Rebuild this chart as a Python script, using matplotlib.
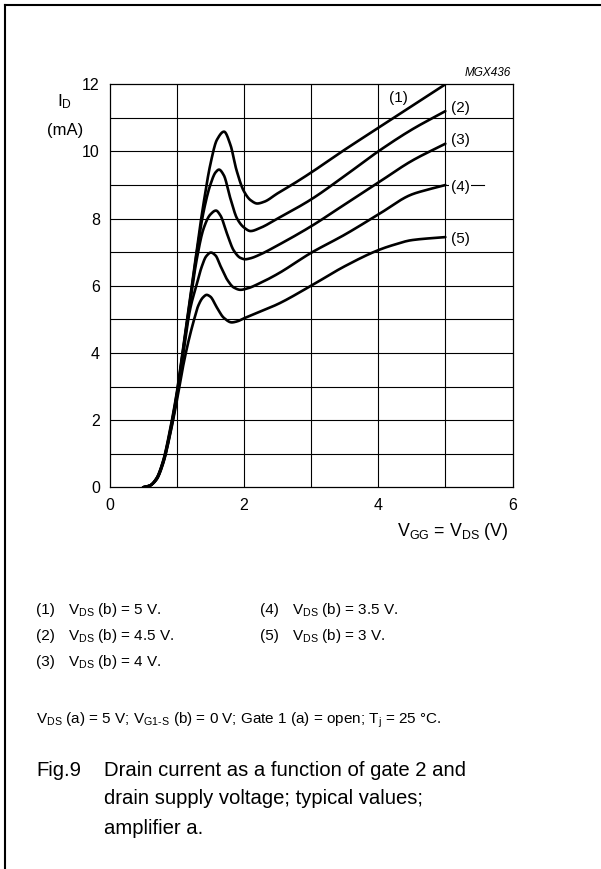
import numpy as np
import matplotlib
matplotlib.use("Agg")
import matplotlib.pyplot as plt
from matplotlib.lines import Line2D

plt.rcParams["font.family"] = ["Liberation Sans", "DejaVu Sans"]
plt.rcParams["mathtext.fontset"] = "custom"
plt.rcParams["mathtext.rm"] = "Liberation Sans"
plt.rcParams["mathtext.it"] = "Liberation Sans:italic"

# Drain current I_D (mA) versus V_GG = V_DS (V), one curve per V_DS (b)
curve_labels = ["(1)", "(2)", "(3)", "(4)", "(5)"]
vds_b = ["5", "4.5", "4", "3.5", "3"]

x1 = [0.50, 0.60, 0.70, 0.80, 0.90, 1.00, 1.10, 1.20, 1.30, 1.40, 1.50, 1.60,
      1.705, 1.80, 1.89, 2.00, 2.10, 2.20, 2.30, 2.50, 2.75, 3.00, 3.50, 4.00,
      4.50, 5.00]
y1 = [0.00, 0.05, 0.27, 0.80, 1.70, 2.80, 4.20, 5.65, 7.10, 8.45, 9.60, 10.35,
      10.59, 10.20, 9.45, 8.82, 8.55, 8.45, 8.50, 8.75, 9.05, 9.37, 10.05, 10.70,
      11.35, 12.00]

x2 = [0.50, 0.60, 0.70, 0.80, 0.90, 1.00, 1.10, 1.20, 1.30, 1.40, 1.50, 1.58,
      1.63, 1.70, 1.80, 1.90, 2.00, 2.10, 2.24, 2.50, 3.00, 3.50, 4.00, 4.50, 5.00]
y2 = [0.00, 0.05, 0.26, 0.78, 1.65, 2.75, 4.15, 5.60, 7.00, 8.20, 9.00, 9.38,
      9.46, 9.30, 8.60, 8.00, 7.74, 7.63, 7.72, 8.00, 8.57, 9.27, 10.00, 10.65, 11.20]

x3 = [0.50, 0.60, 0.70, 0.80, 0.90, 1.00, 1.10, 1.20, 1.30, 1.40, 1.50, 1.585,
      1.65, 1.75, 1.85, 1.95, 2.02, 2.10, 2.24, 2.50, 3.00, 3.50, 4.00, 4.50, 5.00]
y3 = [0.00, 0.05, 0.25, 0.76, 1.62, 2.70, 4.10, 5.50, 6.80, 7.70, 8.12, 8.24,
      8.10, 7.55, 7.05, 6.83, 6.79, 6.82, 6.93, 7.20, 7.77, 8.42, 9.07, 9.72, 10.23]

x4 = [0.50, 0.60, 0.70, 0.80, 0.90, 1.00, 1.10, 1.20, 1.30, 1.37, 1.44, 1.51,
      1.58, 1.65, 1.75, 1.85, 1.95, 2.05, 2.24, 2.50, 3.00, 3.50, 4.00, 4.50,
      4.75, 5.00]
y4 = [0.00, 0.05, 0.24, 0.74, 1.58, 2.65, 4.00, 5.30, 6.05, 6.55, 6.88, 6.99,
      6.90, 6.60, 6.19, 5.95, 5.88, 5.92, 6.08, 6.35, 6.98, 7.52, 8.12, 8.72,
      8.87, 9.00]

x5 = [0.50, 0.60, 0.70, 0.80, 0.90, 1.00, 1.10, 1.17, 1.26, 1.32, 1.39, 1.447,
      1.50, 1.60, 1.70, 1.82, 1.90, 2.00, 2.24, 2.50, 3.00, 3.50, 4.00, 4.20,
      4.50, 5.00]
y5 = [0.00, 0.05, 0.23, 0.72, 1.55, 2.55, 3.65, 4.30, 5.00, 5.40, 5.65, 5.73,
      5.68, 5.35, 5.05, 4.91, 4.94, 5.03, 5.23, 5.45, 6.00, 6.58, 7.06, 7.20,
      7.36, 7.45]

curves_x = [x1, x2, x3, x4, x5]
curves_y = [y1, y2, y3, y4, y5]

# label anchor for each curve (data coords)
label_x = [4.30, 5.08, 5.08, 5.08, 5.08]
label_y = [11.58, 11.29, 10.34, 8.95, 7.39]
label_ha = ["center", "left", "left", "left", "left"]

x_ticks = [0, 2, 4, 6]
y_ticks = [0, 2, 4, 6, 8, 10, 12]


def pchip(x, y, n=40):
    """Monotone cubic Hermite curve through the given points."""
    x = np.asarray(x, float)
    y = np.asarray(y, float)
    h = np.diff(x)
    delta = np.diff(y) / h
    d = np.zeros_like(y)
    for k in range(1, len(x) - 1):
        if delta[k - 1] * delta[k] > 0:
            w1 = 2 * h[k] + h[k - 1]
            w2 = h[k] + 2 * h[k - 1]
            d[k] = (w1 + w2) / (w1 / delta[k - 1] + w2 / delta[k])
    d[0] = delta[0]
    d[-1] = delta[-1]
    xs, ys = [], []
    for k in range(len(x) - 1):
        t = np.linspace(0, 1, n, endpoint=False)
        h00 = 2 * t**3 - 3 * t**2 + 1
        h10 = t**3 - 2 * t**2 + t
        h01 = -2 * t**3 + 3 * t**2
        h11 = t**3 - t**2
        xs.append(x[k] + t * h[k])
        ys.append(h00 * y[k] + h10 * h[k] * d[k] + h01 * y[k + 1] + h11 * h[k] * d[k + 1])
    xs.append([x[-1]])
    ys.append([y[-1]])
    return np.concatenate(xs), np.concatenate(ys)


W, H = 601, 869
fig = plt.figure(figsize=(W / 100, H / 100), dpi=100)
fig.patch.set_facecolor("white")


def fx(px):
    return px / W


def fy(py):
    return 1 - py / H


# page frame (top and left rules)
fig.add_artist(Line2D([fx(5), 1], [fy(5), fy(5)], color="black", lw=1.5))
fig.add_artist(Line2D([fx(5), fx(5)], [fy(5), 0], color="black", lw=1.5))

ax = fig.add_axes([fx(109.5), fy(487.3), fx(512.5) - fx(109.5), fy(84.3) - fy(487.3)])
ax.set_xlim(0, 6)
ax.set_ylim(0, 12)

# grid
for gx in range(1, 6):
    ax.axvline(gx, color="black", lw=0.8, zorder=1)
for gy in range(1, 12):
    xmax = 5.58 / 6 if gy == 9 else 1
    ax.axhline(gy, xmin=0, xmax=xmax, color="black", lw=0.8, zorder=1)

for cx, cy in zip(curves_x, curves_y):
    sx, sy = pchip(cx, cy)
    ax.plot(sx, sy, color="black", lw=1.9, solid_capstyle="round", zorder=3)

# curve labels sit above the grid but below the curves
for lab, lx, ly, ha in zip(curve_labels, label_x, label_y, label_ha):
    ax.text(lx, ly, lab, ha=ha, va="center", fontsize=11, zorder=2,
            bbox=dict(boxstyle="square,pad=0.12", fc="white", ec="none"))

ax.set_xticks(x_ticks)
ax.set_yticks(y_ticks)
ax.set_xticklabels([str(v) for v in x_ticks])
ax.set_yticklabels([str(v) for v in y_ticks])
ax.tick_params(axis="both", length=0, labelsize=11.5)
ax.tick_params(axis="x", pad=8)
ax.tick_params(axis="y", pad=7)
for s in ax.spines.values():
    s.set_linewidth(0.9)
    s.set_zorder(4)

fig.text(fx(65), fy(102), r"$\mathregular{I_D}$", ha="center", va="center", fontsize=12.5)
fig.text(fx(65), fy(131), "(mA)", ha="center", va="center", fontsize=12)
fig.text(fx(508), fy(532), r"$\mathregular{V_{GG}}$ = $\mathregular{V_{DS}}$ (V)",
         ha="right", va="center", fontsize=12.8)
fig.text(fx(511), fy(73), "MGX436", ha="right", va="center", fontsize=8.5, style="italic")

# notes
note_rows = [610, 636, 662]
for i, (lab, v) in enumerate(zip(curve_labels, vds_b)):
    col = 0 if i < 3 else 1
    row = note_rows[i if i < 3 else i - 3]
    x0 = 36 if col == 0 else 260
    fig.text(fx(x0), fy(row), lab, ha="left", va="center", fontsize=11)
    fig.text(fx(x0 + 31.5), fy(row), r"$\mathregular{V_{DS}}$ (b) = " + v + " V.",
             ha="left", va="center", fontsize=11)

fig.text(fx(36), fy(720),
         r"$\mathregular{V_{DS}}$ (a) = 5 V; $\mathregular{V_{G1\text{-}S}}$ (b) = 0 V; "
         r"Gate 1 (a) = open; $\mathregular{T_j}$ = 25 °C.",
         ha="left", va="center", fontsize=11)

fig.text(fx(36), fy(770), "Fig.9", ha="left", va="center", fontsize=14.6)
caption_lines = ["Drain current as a function of gate 2 and",
                 "drain supply voltage; typical values;",
                 "amplifier a."]
for line, py in zip(caption_lines, [770, 799, 828]):
    fig.text(fx(104.3), fy(py), line, ha="left", va="center", fontsize=14.6)

fig.savefig("out.png", dpi=100, facecolor="white")
